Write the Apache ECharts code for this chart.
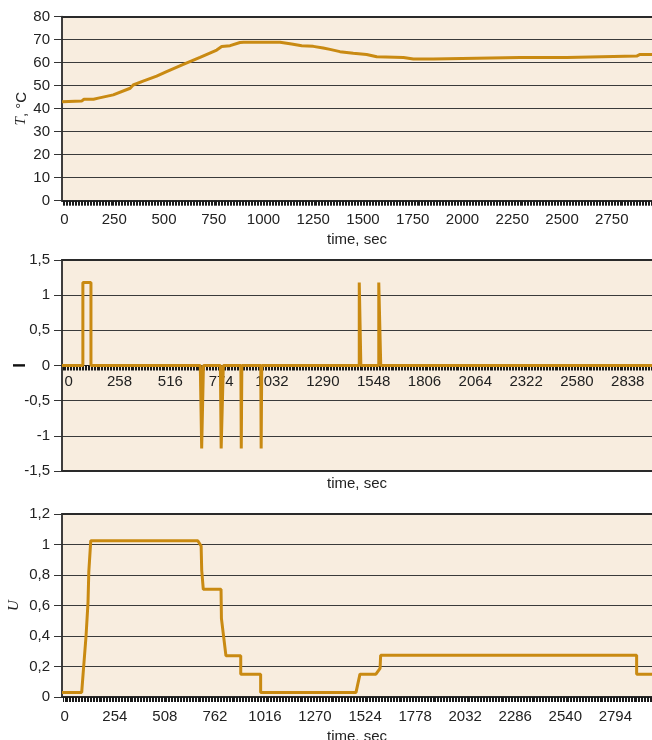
<!DOCTYPE html>
<html>
<head>
<meta charset="utf-8">
<script src="https://cdn.jsdelivr.net/npm/echarts@6/dist/echarts.min.js"></script>
<style>
html,body{margin:0;padding:0;background:#fff;}
#c{width:652px;height:740px;}
</style>
</head>
<body>
<div id="c"></div>
<script>
// ---- tick labels ----
const tTimeLabels = [0,250,500,750,1000,1250,1500,1750,2000,2250,2500,2750];
const iTimeLabels = [0,258,516,774,1032,1290,1548,1806,2064,2322,2580,2838];
const uTimeLabels = [0,254,508,762,1016,1270,1524,1778,2032,2286,2540,2794];

// ---- series: temperature T, °C  [time, value] ----
const tempSeries = [
  [-12,43.0],[86,43.3],[98,44.1],[146,44.1],[170,44.6],[245,46.0],[330,48.9],[345,50.3],
  [395,52.0],[463,54.2],[513,56.1],[597,59.3],[681,62.3],[765,65.5],[790,67.0],[832,67.4],
  [882,68.8],[900,68.9],[1083,68.9],[1091,68.1],[1141,68.1],[1150,67.6],[1192,67.4],
  [1200,67.1],[1250,67.1],[1259,66.5],[1300,66.4],[1334,65.8],[1384,64.8],[1451,64.1],
  [1518,63.6],[1569,62.6],[1703,62.3],[1753,61.6],[1853,61.6],[1861,62.3],[2289,62.3],
  [2296,62.9],[2305,62.3],[2524,62.3],[2532,62.9],[2875,62.9],[2892,63.6],[2952,63.6]
];

// ---- series: I  [time, value] ----
const iSeries = [
  [-34,0],[72,0],[72,1.18],[113,1.18],[113,0],
  [668,0],[675,-1.18],[682,-1.18],[684,0],
  [770,0],[774,-1.18],[783,-1.18],[785,0],
  [874,0],[876,-1.18],[877,-1.18],[879,0],
  [975,0],[977,-1.18],[978,-1.18],[980,0],
  [1475,0],[1475,1.18],[1483,1.18],[1483,0],
  [1574,0],[1574,1.18],[1584,1.18],[1584,0],
  [2961,0]
];

// ---- series: U  [time, value] ----
const uSeries = [
  [-14,0.03],[86,0.03],[93,0.15],[108,0.40],[118,0.62],[122,0.82],[132,1.025],
  [675,1.025],[692,0.99],[695,0.83],[703,0.706],[793,0.706],[795,0.516],[818,0.27],
  [893,0.27],[893,0.15],[994,0.15],[994,0.03],[1478,0.03],[1498,0.15],[1579,0.15],
  [1600,0.188],[1603,0.273],[2902,0.273],[2902,0.15],[2980,0.15]
];

function denseTicks(min, max, step){
  const a=[]; for(let v=Math.ceil(min/step)*step; v<=max; v+=step) a.push(v); return a;
}
const FONT = 'Liberation Sans, Arial, sans-serif';
const LABEL = '#222';
const LINE = '#C98A12';
const BG = '#F8EDDF';
const comma = v => String(Math.round(v*10)/10).replace('.', ',');
const plain = v => String(v);

const grids = [
  {left:62, right:0, top:16.7, height:184, backgroundColor:BG, show:true, borderWidth:0, containLabel:false, outerBoundsMode:'none'},
  {left:62, right:0, top:260, height:211, backgroundColor:BG, show:true, borderWidth:0, containLabel:false, outerBoundsMode:'none'},
  {left:62, right:0, top:514, height:183, backgroundColor:BG, show:true, borderWidth:0, containLabel:false, outerBoundsMode:'none'}
];

function mainX(grid, min, max, labels, labelMargin, tickLen, offset){
  return {
    type:'value', gridIndex:grid, min:min, max:max, position:'bottom', offset:offset||0,
    axisLine:{show:true, onZero:false, lineStyle:{color:'#222', width:1.2}},
    axisTick:{show:true, inside:false, length:tickLen, customValues:denseTicks(min,max,7.5), lineStyle:{color:'#1a1a1a', width:1}},
    axisLabel:{show:true, customValues:labels, margin:labelMargin, color:LABEL, fontSize:15, fontFamily:FONT, formatter:plain, hideOverlap:false},
    splitLine:{show:false}
  };
}
function borderX(grid, pos, min, max, name, gap){
  return {
    type:'value', gridIndex:grid, min:min, max:max, position:pos,
    axisLine:{show:true, onZero:false, lineStyle:{color:'#2a2a2a', width:2}},
    axisTick:{show:false}, axisLabel:{show:false}, splitLine:{show:false},
    name:name||'', nameLocation:'middle', nameGap:gap||0, nameMoveOverlap:false,
    nameTextStyle:{color:LABEL, fontSize:15, fontFamily:FONT}
  };
}
function yAx(grid, min, max, interval, fmt, name, gap){
  return {
    type:'value', gridIndex:grid, min:min, max:max, interval:interval,
    axisLine:{show:true, onZero:false, lineStyle:{color:'#2a2a2a', width:1.8}},
    axisTick:{show:true, length:8, lineStyle:{color:'#333', width:1}},
    axisLabel:{margin:12, color:LABEL, fontSize:15, fontFamily:FONT, formatter:fmt},
    splitLine:{show:true, lineStyle:{color:'#3a3a3a', width:1}},
    name:name, nameLocation:'middle', nameGap:gap, nameRotate:90, nameMoveOverlap:false,
    nameTextStyle:{color:LABEL, fontSize:15, fontFamily:FONT, rich:{
      i:{fontFamily:'Liberation Serif, Times New Roman, serif', fontStyle:'italic', fontSize:15, color:LABEL},
      s:{fontFamily:FONT, fontSize:15, color:LABEL},
      b:{fontFamily:FONT, fontWeight:'bold', fontSize:17, color:'#111'}
    }}
  };
}

const option = {
  animation:false,
  grid: grids,
  xAxis: [
    mainX(0, -12.5, 2952, tTimeLabels, 12, 5, 0),
    borderX(0, 'top', -12.5, 2952),
    borderX(0, 'bottom', -12.5, 2952, 'time, sec', 32),
    mainX(1, -34, 2961, iTimeLabels, 9, 5, -105.5),
    borderX(1, 'top', -34, 2961),
    borderX(1, 'bottom', -34, 2961, 'time, sec', 5),
    mainX(2, -14, 2980, uTimeLabels, 12, 5, 0),
    borderX(2, 'top', -14, 2980),
    borderX(2, 'bottom', -14, 2980, 'time, sec', 32)
  ],
  yAxis: [
    yAx(0, 0, 80, 10, plain, '{i|T}{s|, °C}', 33),
    yAx(1, -1.5, 1.5, 0.5, comma, '{b|I}', 33),
    yAx(2, 0, 1.2, 0.2, comma, '{i|U}', 40)
  ],
  series: [
    {type:'line', xAxisIndex:0, yAxisIndex:0, data:tempSeries, showSymbol:false, lineStyle:{color:LINE, width:3}, z:5},
    {type:'line', xAxisIndex:3, yAxisIndex:1, data:iSeries, showSymbol:false, lineStyle:{color:LINE, width:3}, z:5},
    {type:'line', xAxisIndex:6, yAxisIndex:2, data:uSeries, showSymbol:false, lineStyle:{color:LINE, width:3}, z:5}
  ]
};
const chart = echarts.init(document.getElementById('c'), null, {renderer:'canvas'});
chart.setOption(option);
</script>
</body>
</html>
